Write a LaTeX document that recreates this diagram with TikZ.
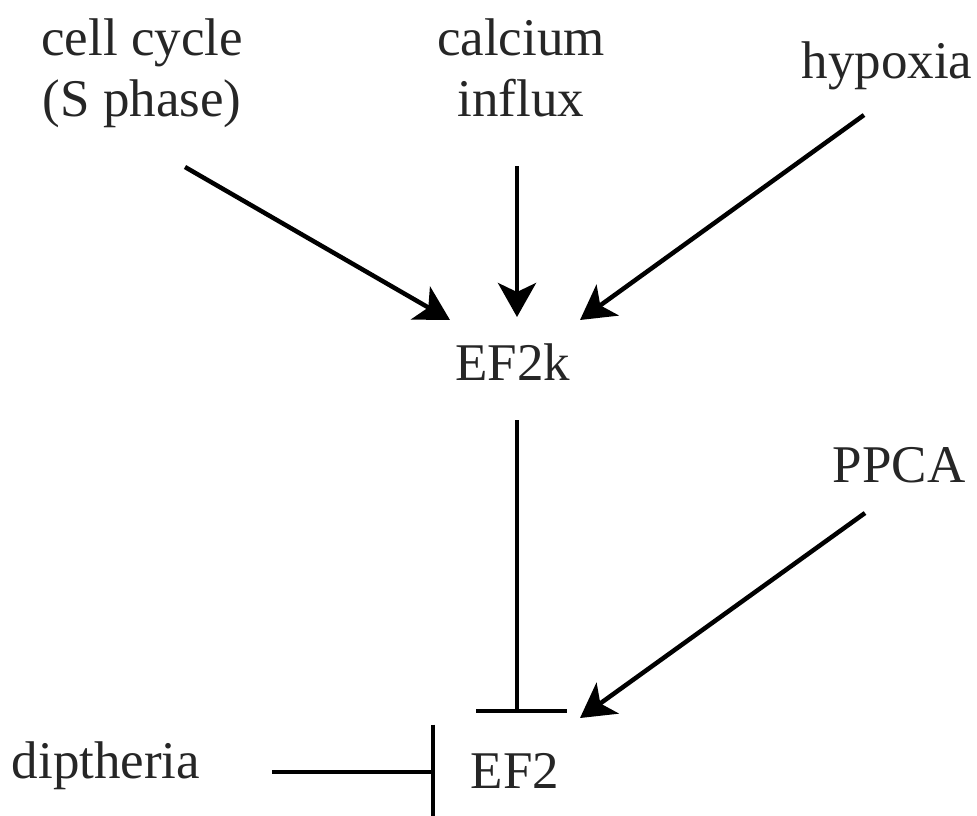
\documentclass[tikz,border=0pt]{standalone}
\usepackage{fontspec}
\setmainfont{Liberation Serif}
\usetikzlibrary{arrows.meta}
\begin{document}
\begin{tikzpicture}[x=1pt,y=-1pt,
  lbl/.style={font=\fontsize{53}{61}\selectfont,inner sep=0pt,align=center,text=black!85},
  conn/.style={line width=4.5pt,black},
  act/.style={conn,-{Stealth[length=34pt,width=38pt,inset=9pt]}},
  inh/.style={conn,-{Bar[width=#1,line width=4.5pt]}}]
\useasboundingbox[fill=white] (0,0) rectangle (977,815);
% labels
\node[lbl,anchor=north] (cell) at (142,19) {cell cycle\\(S phase)};
\node[lbl,anchor=north] (calc) at (521,19) {calcium\\influx};
\node[lbl,anchor=base] (hyp) at (887,78) {hypoxia};
\node[lbl,anchor=base] (ef2k) at (513,380) {EF2k};
\node[lbl,anchor=base] (ppca) at (899,482) {PPCA};
\node[lbl,anchor=base] (dip) at (106,778) {diptheria};
\node[lbl,anchor=base] (ef2) at (515,788) {EF2};
% connector end points
\coordinate (cellS) at (185,167);
\coordinate (cellE) at (450,320);
\coordinate (calcS) at (517,166);
\coordinate (calcE) at (517,317);
\coordinate (hypS) at (864,115);
\coordinate (hypE) at (580,320);
\coordinate (ppcaS) at (865,513);
\coordinate (ppcaE) at (580,718);
\coordinate (ef2kS) at (517,420);
\coordinate (ef2kE) at (521.5,711);
\coordinate (dipS) at (272,772);
\coordinate (dipE) at (435,772);
% connectors
\draw[act] (cellS) -- (cellE);
\draw[act] (calcS) -- (calcE);
\draw[act] (hypS) -- (hypE);
\draw[act] (ppcaS) -- (ppcaE);
\draw[conn] (ef2kS) |- (ef2kE);
\draw[conn] (476,711) -- (567,711);
\draw[inh=95pt] (dipS) -- (dipE);
\end{tikzpicture}
\end{document}
